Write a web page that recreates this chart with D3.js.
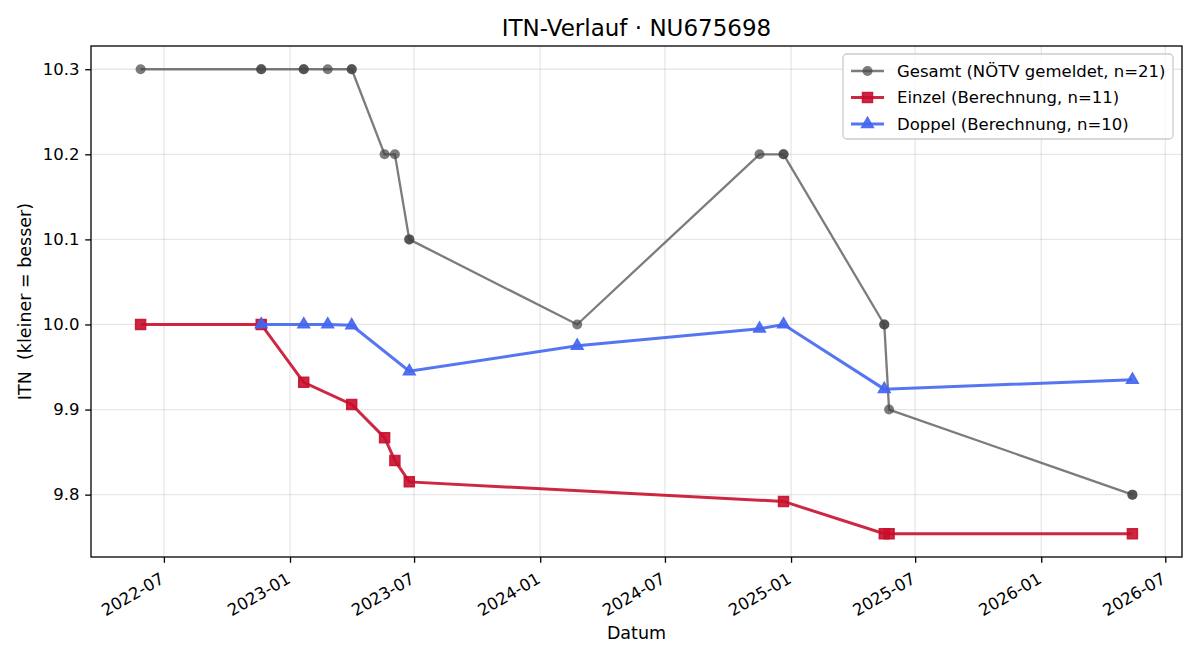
<!DOCTYPE html>
<html><head><meta charset="utf-8">
<script src="https://cdn.jsdelivr.net/npm/d3@7"></script>
<style>
body{margin:0;background:#fff;}
text{font-family:"DejaVu Sans",sans-serif;fill:#000;}
</style></head>
<body><svg id="c" width="1200" height="660"></svg>
<script>
const gesamtDates = ["2022-05-28","2022-11-20","2022-11-20","2023-01-21","2023-01-21","2023-02-25","2023-04-01","2023-04-01","2023-05-19","2023-06-03","2023-06-24","2023-06-24","2024-02-24","2024-11-16","2024-12-21","2024-12-21","2025-05-17","2025-05-17","2025-05-24","2026-05-14","2026-05-14"];
const gesamtValues = [10.3,10.3,10.3,10.3,10.3,10.3,10.3,10.3,10.2,10.2,10.1,10.1,10.0,10.2,10.2,10.2,10.0,10.0,9.9,9.8,9.8];
const einzelDates = ["2022-05-28","2022-11-20","2023-01-21","2023-04-01","2023-05-19","2023-06-03","2023-06-24","2024-12-21","2025-05-17","2025-05-24","2026-05-14"];
const einzelValues = [10.0,10.0,9.932,9.906,9.867,9.840,9.815,9.792,9.754,9.754,9.754];
const doppelDates = ["2022-11-20","2023-01-21","2023-02-25","2023-04-01","2023-06-24","2024-02-24","2024-11-16","2024-12-21","2025-05-17","2026-05-14"];
const doppelValues = [10.0,10.0,10.0,9.999,9.945,9.975,9.995,10.0,9.924,9.935];
const yTicks = [9.8,9.9,10.0,10.1,10.2,10.3];
const title = "ITN-Verlauf · NU675698";
const xLabel = "Datum";
const yLabel = "ITN  (kleiner = besser)";
const seriesNames = ["Gesamt (NÖTV gemeldet, n=21)","Einzel (Berechnung, n=11)","Doppel (Berechnung, n=10)"];

const parse = d3.timeParse("%Y-%m-%d");
const L = 91, R = 1182, T = 46, B = 557;
const svg = d3.select("#c");

const mk = (ds, vs) => ds.map((d, i) => ({date: parse(d), v: vs[i]}));
const gesamt = mk(gesamtDates, gesamtValues);
const einzel = mk(einzelDates, einzelValues);
const doppel = mk(doppelDates, doppelValues);
const all = gesamt.concat(einzel, doppel);

const xe = d3.extent(all, d => +d.date);
const xp = (xe[1] - xe[0]) * 0.05;
const x = d3.scaleTime().domain([new Date(xe[0] - xp), new Date(xe[1] + xp)]).range([L, R]);
const ye = d3.extent(all, d => d.v);
const yp = (ye[1] - ye[0]) * 0.05;
const y = d3.scaleLinear().domain([ye[0] - yp, ye[1] + yp]).range([B, T]);

const xTicks = d3.timeMonth.every(6).range(x.domain()[0], x.domain()[1]).filter(d => d.getMonth() % 6 === 0);

// grid
const grid = svg.append("g");
grid.selectAll(".gx").data(xTicks).join("line")
  .attr("x1", d => x(d)).attr("x2", d => x(d)).attr("y1", T).attr("y2", B)
  .attr("stroke", "#b0b0b0").attr("stroke-opacity", 0.3).attr("stroke-width", 1.3);
grid.selectAll(".gy").data(yTicks).join("line")
  .attr("x1", L).attr("x2", R).attr("y1", d => y(d)).attr("y2", d => y(d))
  .attr("stroke", "#b0b0b0").attr("stroke-opacity", 0.3).attr("stroke-width", 1.3);

const line = d3.line().x(d => x(d.date)).y(d => y(d.v));

// Gesamt
const gCol = "#444444";
svg.append("path").datum(gesamt).attr("d", line).attr("fill", "none")
  .attr("stroke", gCol).attr("stroke-opacity", 0.7).attr("stroke-width", 2.3);
svg.append("g").selectAll("circle").data(gesamt).join("circle")
  .attr("cx", d => x(d.date)).attr("cy", d => y(d.v)).attr("r", 5)
  .attr("fill", gCol).attr("fill-opacity", 0.7);

// Einzel
const eCol = "#c8102e";
svg.append("path").datum(einzel).attr("d", line).attr("fill", "none")
  .attr("stroke", eCol).attr("stroke-opacity", 0.9).attr("stroke-width", 3);
const sq = d3.symbol().type(d3.symbolSquare).size(100);
svg.append("g").selectAll("path").data(einzel).join("path")
  .attr("d", sq).attr("transform", d => `translate(${x(d.date)},${y(d.v)})`)
  .attr("fill", eCol).attr("fill-opacity", 0.9).attr("stroke", eCol).attr("stroke-opacity", 0.9).attr("stroke-width", 1.5);

// Doppel
const dCol = "#4466f0";
svg.append("path").datum(doppel).attr("d", line).attr("fill", "none")
  .attr("stroke", dCol).attr("stroke-opacity", 0.9).attr("stroke-width", 3);
const tri = d3.symbol().type(d3.symbolTriangle).size(60);
svg.append("g").selectAll("path").data(doppel).join("path")
  .attr("d", tri).attr("transform", d => `translate(${x(d.date)},${y(d.v)})`)
  .attr("fill", dCol).attr("fill-opacity", 0.9).attr("stroke", dCol).attr("stroke-opacity", 0.9).attr("stroke-width", 1.5);

// frame
svg.append("rect").attr("x", L).attr("y", T).attr("width", R - L).attr("height", B - T)
  .attr("fill", "none").attr("stroke", "#000").attr("stroke-width", 1.3);

// axes
const yAxis = d3.axisLeft(y).tickValues(yTicks).tickFormat(d3.format(".1f")).tickSize(5.8).tickPadding(5.8);
const ya = svg.append("g").attr("transform", `translate(${L},0)`).call(yAxis);
ya.select(".domain").remove();
ya.selectAll("line").attr("stroke-width", 1.3);
ya.selectAll("text").style("font-size", "16.5px").style("font-family", "DejaVu Sans");

const xAxis = d3.axisBottom(x).tickValues(xTicks).tickFormat(d3.timeFormat("%Y-%m")).tickSize(5.8).tickPadding(0);
const xa = svg.append("g").attr("transform", `translate(0,${B})`).call(xAxis);
xa.select(".domain").remove();
xa.selectAll("line").attr("stroke-width", 1.3);
xa.selectAll("text").style("font-size", "16.5px").style("font-family", "DejaVu Sans")
  .attr("text-anchor", "end").attr("y", 0).attr("dy", null)
  .attr("transform", "translate(1,25) rotate(-30)");

// title & labels
svg.append("text").attr("x", (L + R) / 2).attr("y", 36).attr("text-anchor", "middle")
  .style("font-size", "23px").text(title);
svg.append("text").attr("x", (L + R) / 2).attr("y", 639).attr("text-anchor", "middle")
  .style("font-size", "17.5px").text(xLabel);
svg.append("text").attr("transform", `translate(31,${(T + B) / 2}) rotate(-90)`).attr("text-anchor", "middle")
  .style("font-size", "17.5px").style("white-space", "pre").attr("xml:space", "preserve").text(yLabel);

// legend
const lg = svg.append("g");
lg.append("rect").attr("x", 843).attr("y", 54).attr("width", 330).attr("height", 85).attr("rx", 4)
  .attr("fill", "#fff").attr("fill-opacity", 0.8).attr("stroke", "#cccccc").attr("stroke-width", 1.3);
const items = [
  {name: seriesNames[0], col: gCol, op: 0.7, w: 2.3, sym: "circle"},
  {name: seriesNames[1], col: eCol, op: 0.9, w: 3, sym: "square"},
  {name: seriesNames[2], col: dCol, op: 0.9, w: 3, sym: "triangle"}
];
items.forEach((it, i) => {
  const cy = 71 + i * 26.5;
  lg.append("line").attr("x1", 851).attr("x2", 884).attr("y1", cy).attr("y2", cy)
    .attr("stroke", it.col).attr("stroke-opacity", it.op).attr("stroke-width", it.w);
  if (it.sym === "circle") {
    lg.append("circle").attr("cx", 867.5).attr("cy", cy).attr("r", 5).attr("fill", it.col).attr("fill-opacity", it.op);
  } else {
    const s = it.sym === "square" ? sq : tri;
    lg.append("path").attr("d", s).attr("transform", `translate(867.5,${cy})`)
      .attr("fill", it.col).attr("fill-opacity", it.op).attr("stroke", it.col).attr("stroke-opacity", it.op).attr("stroke-width", 1.5);
  }
  lg.append("text").attr("x", 897).attr("y", cy).attr("dy", "0.36em").style("font-size", "16.5px").text(it.name);
});
</script></body></html>
